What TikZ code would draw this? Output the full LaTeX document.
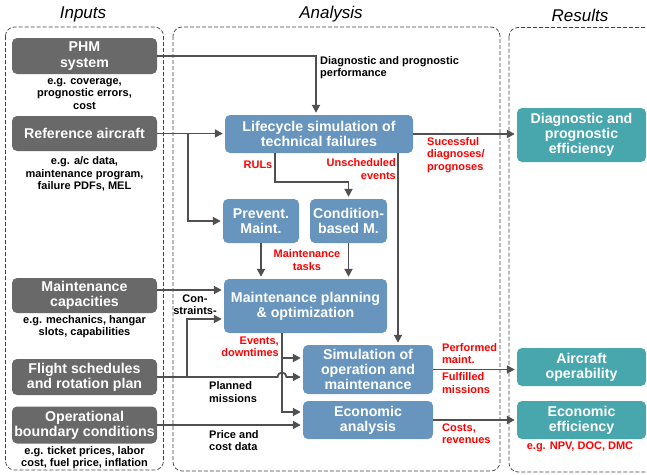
\documentclass[tikz,border=0pt]{standalone}
\usepackage{fontspec}
\setmainfont{Liberation Sans}
\usetikzlibrary{arrows.meta,calc}
\definecolor{boxgray}{HTML}{696969}
\definecolor{boxblue}{HTML}{6795BD}
\definecolor{boxteal}{HTML}{48A6AD}
\definecolor{arrgray}{HTML}{505050}
\definecolor{panelline}{HTML}{404040}
\begin{document}
\begin{tikzpicture}[x=1pt,y=-1pt,
  box/.style={rounded corners=5pt, text=white, font=\bfseries\fontsize{14.2}{15.3}\selectfont, align=center, inner sep=0pt},
  graybox/.style={box, fill=boxgray, minimum width=145pt},
  bluebox/.style={box, fill=boxblue},
  tealbox/.style={box, fill=boxteal, minimum width=129pt},
  note/.style={font=\bfseries\fontsize{11}{12.2}\selectfont, inner sep=0pt, align=center},
  rednote/.style={note, text=red},
  title/.style={font=\itshape\fontsize{17}{18}\selectfont, inner sep=0pt},
  panel/.style={draw=panelline, dash pattern=on 4pt off 2pt, line width=0.7pt, rounded corners=9pt},
  conn/.style={draw=arrgray, line width=1.8pt},
  arr/.style={conn, -{Triangle[length=8pt,width=8pt]}, shorten >=2pt},
]
\useasboundingbox (0,0) rectangle (647,474);

% panels
\draw[panel] (5.5,27) rectangle (163.5,470);
\draw[panel] (173,27) rectangle (500,471);
\draw[panel] (509,27.5) rectangle (665,472);
\node[title] (tin) at (83,14) {Inputs};
\node[title] (tan) at (331,14) {Analysis};
\node[title] (tre) at (580,15) {Results};

% inputs
\node[graybox, minimum height=36pt] (phm) at (84.5,56) {PHM\\system};
\node[note] (phmn) at (84.5,94) {e.g. coverage,\\prognostic errors,\\cost};
\node[graybox, minimum height=35pt] (ref) at (84.5,133.5) {Reference aircraft};
\node[note] (refn) at (84.5,174) {e.g. a/c data,\\maintenance program,\\failure PDFs, MEL};
\node[graybox, minimum height=35pt] (mcap) at (84.5,295.5) {Maintenance\\capacities};
\node[note] (mcapn) at (84.5,327) {e.g. mechanics, hangar\\slots, capabilities};
\node[graybox, minimum height=36pt] (flight) at (84.5,377) {Flight schedules\\and rotation plan};
\node[graybox, minimum height=37pt] (opb) at (84.5,425) {Operational\\boundary conditions};
\node[note] (opbn) at (84.5,457.5) {e.g. ticket prices, labor\\cost, fuel price, inflation};

% analysis
\node[bluebox, minimum width=188pt, minimum height=38pt] (life) at (319,134) {Lifecycle simulation of\\technical failures};
\node[bluebox, minimum width=76pt, minimum height=44pt] (prev) at (261,221) {Prevent.\\Maint.};
\node[bluebox, minimum width=77pt, minimum height=44pt] (cbm) at (348.5,221) {Condition-\\based M.};
\node[bluebox, minimum width=163pt, minimum height=54pt] (mpo) at (305.5,306) {Maintenance planning\\\&~optimization};
\node[bluebox, minimum width=130pt, minimum height=49pt] (som) at (368,369.5) {Simulation of\\operation and\\maintenance};
\node[bluebox, minimum width=130pt, minimum height=38pt] (eco) at (368,420) {Economic\\analysis};

% results
\node[tealbox, minimum height=54pt] (dpe) at (581.5,135) {Diagnostic and\\prognostic\\efficiency};
\node[tealbox, minimum height=38pt] (aop) at (581.5,367) {Aircraft\\operability};
\node[tealbox, minimum height=38pt] (eef) at (581.5,420) {Economic\\efficiency};
\node[rednote] (eefn) at (580,447) {e.g. NPV, DOC, DMC};

% labels
\node[note, anchor=west, align=left] (l1) at (320,68) {Diagnostic and prognostic\\performance};
\node[rednote] (l2) at (258,165) {RULs};
\node[rednote, anchor=east, align=right] (l3) at (396,169) {Unscheduled\\events};
\node[rednote, anchor=west, align=left] (l4) at (427,155) {Sucessful\\diagnoses/\\prognoses};
\node[rednote] (l5) at (307,260) {Maintenance\\tasks};
\node[note] (l6) at (195,305) {Con-\\straints-};
\node[rednote, anchor=east, align=right] (l7) at (279,346.5) {Events,\\downtimes};
\node[note, anchor=west, align=left] (l8) at (209,392) {Planned\\missions};
\node[note, anchor=west, align=left] (l9) at (209,440.5) {Price and\\cost data};
\node[rednote, anchor=west, align=left] (l10) at (442,353.5) {Performed\\maint.};
\node[rednote, anchor=west, align=left] (l11) at (442,383) {Fulfilled\\missions};
\node[rednote, anchor=west, align=left] (l12) at (442,434) {Costs,\\revenues};

% connectors
\draw[arr] (phm.east) -| ([xshift=-3pt]life.north);
\draw[arr] (ref.east) -- (ref.east -| life.west);
\coordinate (j1) at ($(ref.east)+(31,0)$);
\draw[arr] (j1) |- (prev.west);
\coordinate (rs) at ([xshift=-44pt]life.south);
\coordinate (rb) at ($(rs)+(0,29)$);
\draw[arr] (rs) -- (rb) -| (cbm.north);
\coordinate (us) at ([xshift=79pt]life.south);
\draw[arr] (us) -- (us |- som.north);
\draw[arr] (life.east) -- (life.east -| dpe.west);
\draw[arr] (prev.south) -- (prev.south |- mpo.north);
\draw[arr] (cbm.south) -- (cbm.south |- mpo.north);
\coordinate (ms) at ([yshift=5.5pt]mcap.east);
\draw[arr] (ms) -- (ms -| mpo.west);
% flight schedules with jump
\coordinate (mb) at ([xshift=-23.5pt]mpo.south);
\coordinate (fj) at ($(flight.east -| mb)+(-4.5,0)$);
\draw[arr] (flight.east) -- (fj) arc[start angle=180, end angle=0, radius=4.5pt] -- (flight.east -| som.west);
\coordinate (j2) at ($(flight.east)+(30,0)$);
\draw[arr] (j2) |- ([yshift=-13pt]mpo.west);
% maintenance planning outputs
\coordinate (ev) at ([yshift=11.5pt]som.west);
\coordinate (ee) at ([yshift=8pt]eco.west);
\draw[arr] (mb) |- (ee);
\draw[arr] (mb |- ev) -- (ev);
\draw[arr] (opb.east) -- (opb.east -| eco.west);
\draw[arr] (som.east) -- (som.east -| aop.west);
\draw[arr] (eco.east) -- (eco.east -| eef.west);
\end{tikzpicture}
\end{document}
